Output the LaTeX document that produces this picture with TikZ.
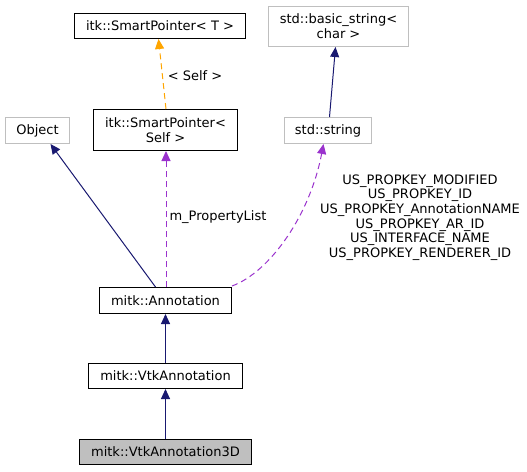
\documentclass[tikz,border=0pt]{standalone}
\usepackage{fontspec}
\setmainfont{DejaVu Sans}
\usetikzlibrary{arrows.meta}
\definecolor{navy}{HTML}{191970}
\definecolor{orchid}{HTML}{9A32CD}
\definecolor{orng}{HTML}{FFA500}
\definecolor{lgray}{HTML}{BFBFBF}
\begin{document}
\begin{tikzpicture}[x=1pt,y=-1pt,
  box/.style={draw=black,line width=1pt,inner sep=0pt,align=center,font=\fontsize{13}{15}\selectfont,anchor=north west},
  gbox/.style={box,draw=lgray},
  inh/.style={navy,line width=1pt,-{Triangle[length=10pt,width=9pt]}},
  use/.style={draw=orchid,line width=1pt,dash pattern=on 6pt off 4pt,-{Triangle[length=10pt,width=9pt,fill=orchid]}},
  tmpl/.style={draw=orng,line width=1pt,dash pattern=on 6pt off 4pt,-{Triangle[length=10pt,width=9pt,fill=orng]}},
  lab/.style={font=\fontsize{13}{14.6}\selectfont,align=center,inner sep=0pt}]
\useasboundingbox (0,0) rectangle (527,471);
\node[box,minimum width=171pt,minimum height=25pt] (spt) at (74,13) {itk::SmartPointer< T >};
\node[box,minimum width=144pt,minimum height=41pt] (sps) at (93,109) {itk::SmartPointer<\\Self >};
\node[gbox,minimum width=64pt,minimum height=26pt] (obj) at (5,117) {Object};
\node[gbox,minimum width=140pt,minimum height=40pt] (bstr) at (268,6) {std::basic\_string<\\char >};
\node[gbox,minimum width=87pt,minimum height=26pt] (str) at (284,117) {std::string};
\node[box,minimum width=132pt,minimum height=26pt] (ann) at (99,287) {mitk::Annotation};
\node[box,minimum width=154pt,minimum height=25pt] (vtk) at (88,363) {mitk::VtkAnnotation};
\node[box,fill=lgray,minimum width=172pt,minimum height=25pt] (vtk3) at (79,439) {mitk::VtkAnnotation3D};
\draw[tmpl] ([xshift=0.5pt]sps.north) -- ([xshift=-1.5pt]spt.south);
\draw[use] ([xshift=0.5pt]ann.north) -- ([xshift=0.5pt]sps.south);
\draw[inh] ([xshift=-10pt]ann.north) -- ([xshift=13pt]obj.south);
\draw[inh] ([xshift=1.5pt]str.north) -- ([xshift=-3pt]bstr.south);
\draw[use] ([yshift=1pt]ann.north east) .. controls (270,272) and (310,215) .. ([xshift=-4.5pt]str.south);
\draw[inh] (vtk.north) -- (ann.south);
\draw[inh] (vtk3.north) -- (vtk.south);
\node[lab] (l1) at (195,76) {< Self >};
\node[lab] (l2) at (218,217) {m\_PropertyList};
\node[lab] (l3) at (420,217.5) {US\_PROPKEY\_MODIFIED\\US\_PROPKEY\_ID\\US\_PROPKEY\_AnnotationNAME\\US\_PROPKEY\_AR\_ID\\US\_INTERFACE\_NAME\\US\_PROPKEY\_RENDERER\_ID};
\end{tikzpicture}
\end{document}
